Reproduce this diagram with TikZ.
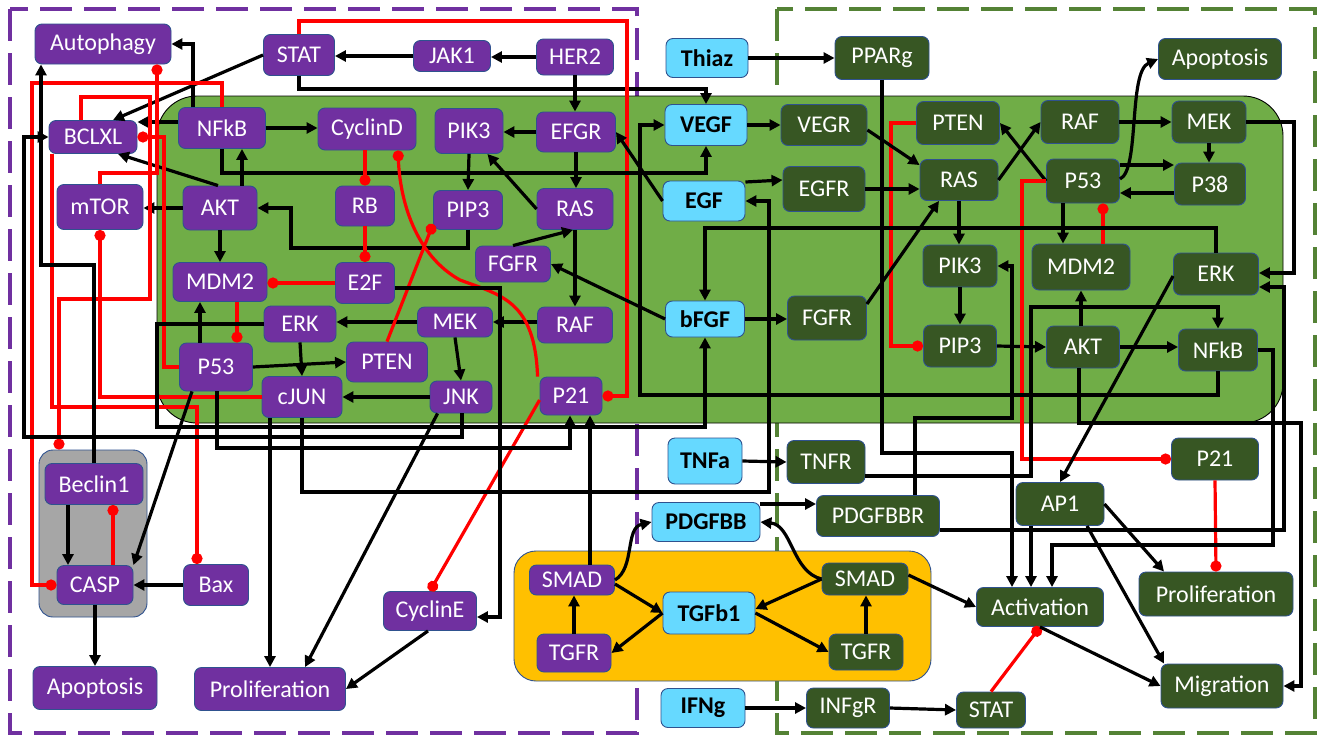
\documentclass[tikz,border=0pt]{standalone}
\usepackage{fontspec}
\setmainfont{Carlito}
\usetikzlibrary{arrows.meta,calc}
\definecolor{purp}{HTML}{7030A0}
\definecolor{darkg}{HTML}{375623}
\definecolor{cyanf}{HTML}{66D9FF}
\definecolor{edgeblue}{HTML}{2F528F}
\definecolor{regiong}{HTML}{70AD47}
\definecolor{orangef}{HTML}{FFC000}
\definecolor{grayf}{HTML}{A6A6A6}
\definecolor{dashg}{HTML}{548235}
\newcommand\mknode[7]{\node[#1,minimum width=#5pt,minimum height=#6pt] (#2) at (#3,#4) {#7};}
\begin{document}
\begin{tikzpicture}[x=1pt,y=-1pt,
  box/.style={rounded corners=7pt, draw=edgeblue, line width=0.9pt, inner sep=0pt,
              font=\fontsize{24}{27}\selectfont},
  pb/.style={box, fill=purp, text=white},
  gb/.style={box, fill=darkg, text=white},
  cb/.style={box, fill=cyanf, text=black, font=\fontsize{24}{27}\selectfont\bfseries},
  ar/.style={draw=black, line width=3.2pt, -{Triangle[length=11pt,width=11pt]}},
  inh/.style={draw=red, line width=3.2pt, -{Circle[length=11pt]}},
  region/.style={inner sep=0pt, line width=0.9pt}]
\useasboundingbox (0,0) rectangle (1319,737);
\fill[white] (0,0) rectangle (1319,737);

% compartments
\draw[purp, line width=4pt, dash pattern=on 32pt off 12pt] (10,9) rectangle (637,733);
\draw[dashg, line width=4pt, dash pattern=on 32pt off 12pt] (777,9) rectangle (1315,733);
\node[region, draw=black, fill=regiong, rounded corners=40pt, minimum width=1126pt, minimum height=327pt] (cell) at (720,259.5) {};
\node[region, draw=edgeblue, fill=grayf, rounded corners=14pt, minimum width=108pt, minimum height=167pt] (grayreg) at (93,533.5) {};
\node[region, draw=edgeblue, fill=orangef, rounded corners=22pt, minimum width=417pt, minimum height=130pt] (orangereg) at (722.5,616) {};

% left compartment
\mknode{pb}{autoP}{103}{44}{136}{40}{Autophagy}
\mknode{pb}{statP}{299}{55}{71}{41}{STAT}
\mknode{pb}{jak1}{452}{56}{77}{31}{JAK1}
\mknode{pb}{her2}{575}{57}{77}{36}{HER2}
\mknode{pb}{bclxl}{93}{137}{88}{33}{BCLXL}
\mknode{pb}{nfkbP}{222}{128}{87}{41}{NFkB}
\mknode{pb}{cycD}{367}{129}{98}{42}{CyclinD}
\mknode{pb}{pik3P}{469}{131}{68}{45}{PIK3}
\mknode{pb}{efgr}{576}{132}{79}{40}{EFGR}
\mknode{pb}{mtor}{100}{207}{86}{45}{mTOR}
\mknode{pb}{aktP}{220}{208}{74}{44}{AKT}
\mknode{pb}{rb}{365}{206}{59}{40}{RB}
\mknode{pb}{pip3P}{468}{210}{69}{39}{PIP3}
\mknode{pb}{rasP}{575}{209}{76}{41}{RAS}
\mknode{pb}{mdm2P}{220}{282}{94}{39}{MDM2}
\mknode{pb}{e2f}{365}{283}{59}{41}{E2F}
\mknode{pb}{fgfrP}{513}{264}{75}{36}{FGFR}
\mknode{pb}{erkP}{300}{324}{72}{36}{ERK}
\mknode{pb}{mekP}{455}{322}{75}{30}{MEK}
\mknode{pb}{rafP}{575}{325}{75}{36}{RAF}
\mknode{pb}{p53P}{216}{367}{73}{48}{P53}
\mknode{pb}{ptenP}{387}{362}{81}{40}{PTEN}
\mknode{pb}{cjun}{302}{397}{80}{41}{cJUN}
\mknode{pb}{jnk}{461}{397}{62}{32}{JNK}
\mknode{pb}{p21P}{571}{396}{62}{38}{P21}
\mknode{pb}{beclin}{94}{484}{98}{41}{Beclin1}
\mknode{pb}{casp}{95}{585}{76}{39}{CASP}
\mknode{pb}{bax}{216}{585}{65}{41}{Bax}
\mknode{pb}{apoP}{95}{688}{124}{43}{Apoptosis}
\mknode{pb}{prolP}{270}{689}{151}{43}{Proliferation}
\mknode{pb}{cycE}{430}{611}{93}{39}{CyclinE}
\mknode{pb}{smadP}{572}{580}{85}{30}{SMAD}
\mknode{pb}{tgfrP}{574}{653}{74}{38}{TGFR}

% ligands
\mknode{cb}{thiaz}{707}{58}{82}{39}{Thiaz}
\mknode{cb}{vegf}{706}{125}{82}{41}{VEGF}
\mknode{cb}{egf}{704}{201}{82}{40}{EGF}
\mknode{cb}{bfgf}{705}{319}{79}{36}{bFGF}
\mknode{cb}{tnfa}{705}{461}{74}{46}{TNFa}
\mknode{cb}{pdgfbb}{706}{522}{108}{39}{PDGFBB}
\mknode{cb}{tgfb1}{709}{613}{92}{42}{TGFb1}
\mknode{cb}{ifng}{703}{708}{84}{39}{IFNg}

% right compartment
\mknode{gb}{pparg}{882}{58}{94}{43}{PPARg}
\mknode{gb}{apoG}{1220}{59}{123}{41}{Apoptosis}
\mknode{gb}{vegr}{824}{125}{86}{41}{VEGR}
\mknode{gb}{ptenG}{958}{123}{83}{43}{PTEN}
\mknode{gb}{rafG}{1080}{122}{78}{43}{RAF}
\mknode{gb}{mekG}{1209}{122}{74}{42}{MEK}
\mknode{gb}{egfrG}{824}{189}{82}{45}{EGFR}
\mknode{gb}{rasG}{959}{180}{78}{41}{RAS}
\mknode{gb}{p53G}{1083}{181}{73}{44}{P53}
\mknode{gb}{p38}{1210}{184}{71}{42}{P38}
\mknode{gb}{pik3G}{960}{266}{74}{42}{PIK3}
\mknode{gb}{mdm2G}{1081}{267}{98}{46}{MDM2}
\mknode{gb}{erkG}{1216}{274}{85}{42}{ERK}
\mknode{gb}{fgfrG}{827}{318}{79}{44}{FGFR}
\mknode{gb}{pip3G}{960}{346}{73}{42}{PIP3}
\mknode{gb}{aktG}{1083}{347}{73}{42}{AKT}
\mknode{gb}{nfkbG}{1218}{350}{79}{42}{NFkB}
\mknode{gb}{tnfr}{826}{462}{78}{43}{TNFR}
\mknode{gb}{p21G}{1215}{459}{87}{42}{P21}
\mknode{gb}{ap1}{1060}{504}{88}{43}{AP1}
\mknode{gb}{pdgfbbr}{878}{516}{123}{41}{PDGFBBR}
\mknode{gb}{smadG}{865}{579}{86}{32}{SMAD}
\mknode{gb}{tgfrG}{866}{652}{74}{36}{TGFR}
\mknode{gb}{activ}{1040}{607}{127}{39}{Activation}
\mknode{gb}{prolG}{1216}{594}{154}{44}{Proliferation}
\mknode{gb}{migr}{1222}{686}{122}{44}{Migration}
\mknode{gb}{infgr}{848}{708}{83}{40}{INFgR}
\mknode{gb}{statG}{991}{710}{69}{36}{STAT}

% ---- left compartment links
\draw[ar] (jak1.west) -- (statP.east |- jak1.west);
\draw[ar] (her2.west) -- (jak1.east |- her2.west);
\draw[ar] (her2.south) -- (her2.south |- efgr.north);
\draw[ar] (statP.west) -- ([xshift=20pt]bclxl.north);
\draw[ar] (statP.south) |- (vegf.north |- 0,89) -- (vegf.north);
\draw[inh] (statP.north) |- (627,21) |- (p21P.east);
\draw[ar] (193,0 |- nfkbP.north) |- (autoP.east);
\draw[ar] (nfkbP.west |- 0,122) -- (bclxl.east |- 0,122);
\draw[ar] (nfkbP.east) -- (cycD.west |- nfkbP.east);
\draw[ar] (nfkbP.south) |- (vegf.south |- 0,173) -- (vegf.south);
\draw[ar] (242,0 |- aktP.north) -- (242,0 |- nfkbP.south);
\draw[ar] (218,0 |- aktP.north) -- ([xshift=25pt]bclxl.south);
\draw[ar] (aktP.west) -- (mtor.east |- aktP.west);
\draw[ar] (aktP.south) -- (mdm2P.north);
\draw[ar] (pip3P.south) |- (291,248) |- (aktP.east);
\draw[ar] (pik3P.south) -- (pip3P.north);
\draw[ar] (efgr.west) -- (pik3P.east |- efgr.west);
\draw[ar] (efgr.south) -- (efgr.south |- rasP.north);
\draw[ar] (rasP.west) -- ([xshift=-16pt]pik3P.south east);
\draw[ar] (fgfrP.north) -- ([xshift=-2pt]rasP.south);
\draw[ar] (rasP.south) -- (rafP.north);
\draw[ar] (rafP.west |- mekP.east) -- (mekP.east);
\draw[ar] (mekP.west) -- (erkP.east |- mekP.west);
\draw[ar] (mekP.south) -- (jnk.north);
\draw[ar] (jnk.west) -- (cjun.east |- jnk.west);
\draw[ar] (erkP.south) -- (cjun.north);
\draw[ar] (200,0 |- p53P.north) -- (200,0 |- mdm2P.south);
\draw[inh] (237,0 |- mdm2P.south) -- (237,0 |- p53P.north);
\draw[inh] (e2f.west) -- (mdm2P.east |- e2f.west);
\draw[inh] (rb.north |- cycD.south) -- (rb.north);
\draw[inh] (rb.south) -- (e2f.north);
\draw[inh] ([xshift=-2pt]p21P.north west) .. controls (535,300) and (500,295) .. (460,280)
           .. controls (415,255) and (400,200) .. ([xshift=31pt]cycD.south);
\draw[ar] (p53P.east) -- (ptenP.west);
\draw[inh] (ptenP.north) -- ([yshift=-14pt]pip3P.west);
\draw[inh] ([yshift=-4pt]p21P.west) -- (cycE.north);
\draw[ar] ([yshift=-5pt]e2f.east) -| (500,617) -- ([yshift=-6pt]cycE.east);
\draw[inh] (cjun.west) -| (mtor.south);
\draw[inh] (nfkbP.north) |- (32,83) |- (casp.west);
\draw[inh] (81,0 |- bclxl.north) |- (150,97) |- (59,299) -- (59,0 |- grayreg.north);
\draw[inh] (mtor.north) |- (157,173) -- (157,0 |- autoP.south);
\draw[inh] (p53P.west) -| (164,137) -- (bclxl.east);
\draw[inh] (52,0 |- bclxl.south) |- (197,407) -- (197,0 |- bax.north);
\draw[ar] (beclin.north) |- (41,265) -- (41,0 |- autoP.south);
\draw[ar] (462,0 |- jnk.south) |- (24,437) |- (bclxl.west);
\draw[ar] (erkP.west) -| (157,427) -| (bfgf.south);
\draw[ar] (217,0 |- p53P.south) |- (570,448) -- (570,0 |- p21P.south);
\draw[ar] (590,0 |- smadP.north) -- (590,0 |- p21P.south);
\draw[ar] (cjun.south) |- (769,492) |- (egf.east);
\draw[ar] (270,0 |- cjun.south) -- (270,0 |- prolP.north);
\draw[ar] ([xshift=8pt]jnk.south west) -- ([xshift=35pt]prolP.north);
\draw[ar] ([xshift=-2pt]cycE.south) -- (prolP.east);
\draw[ar] ([xshift=-24pt]p53P.south) -- (casp.north east);
\draw[ar] (68,0 |- beclin.south) -- (68,0 |- casp.north);
\draw[inh] (113,0 |- casp.north) -- (113,0 |- beclin.south);
\draw[ar] (bax.west) -- (casp.east);
\draw[ar] (casp.south) -- (apoP.north);

% ---- TGF-beta module and ligands
\draw[ar] (tgfrP.north) -- (tgfrP.north |- smadP.south);
\draw[ar] (smadP.east) .. controls (635,568) and (625,528) .. (pdgfbb.west);
\draw[ar] ([yshift=-4pt]smadP.east) -- (tgfb1.west);
\draw[ar] (tgfb1.west) -- (tgfrP.east);
\draw[ar] (smadG.west) -- ([yshift=4pt]tgfb1.east);
\draw[ar] (tgfb1.east) -- (tgfrG.west);
\draw[ar] (smadG.west) .. controls (792,572) and (792,525) .. (pdgfbb.east);
\draw[ar] (tgfrG.north) -- (tgfrG.north |- smadG.south);
\draw[ar] ([yshift=4pt]smadG.east) -- (activ.west);
\draw[ar] (pdgfbb.east |- 0,504) -- (pdgfbbr.west |- 0,504);
\draw[ar] (tnfa.east) -- (tnfr.west);
\draw[ar] (ifng.east) -- (infgr.west);
\draw[ar] (infgr.east) -- (statG.west);
\draw[ar] (thiaz.east) -- (pparg.west);

% ---- right compartment links
\draw[inh] (statG.north) -- (activ.south);
\draw[ar] (activ.south) -- (migr.west);
\draw[ar] (1031,0 |- ap1.south) -- (1031,0 |- activ.north);
\draw[ar] (ap1.east) -- ([xshift=-52pt]prolG.north);
\draw[ar] ([xshift=27pt]ap1.south) -- ([xshift=-58pt]migr.north);
\draw[inh] (p21G.south) -- (prolG.north);
\draw[ar] (pparg.south) |- (1012,453) -- (1012,0 |- activ.north);
\draw[ar] (nfkbG.east) -| (1273,545) -| (1052,0 |- activ.north);
\draw[ar] (1079,0 |- aktG.south) |- (1301,423) |- (migr.east);
\draw[ar] (pdgfbbr.east |- 0,530) -| (1284,287) -- (erkG.east |- 0,287);
\draw[ar] (mekG.east) -| (1294,273) -- (erkG.east |- 0,273);
\draw[ar] (mekG.south) -- (mekG.south |- p38.north);
\draw[ar] (p53G.east |- 0,165) -- (p38.west |- 0,165);
\draw[ar] (p38.west |- 0,193) -- (p53G.east |- 0,193);
\draw[ar] ([yshift=2pt]p53G.east) .. controls (1140,170) and (1128,72) .. (apoG.west);
\draw[ar] (p53G.west) -- (ptenG.east);
\draw[ar] (rasG.east) -- (rafG.west);
\draw[ar] (rafG.east) -- (mekG.west);
\draw[ar] (1063,0 |- p53G.south) -- (1063,0 |- mdm2G.north);
\draw[inh] (1103,0 |- mdm2G.north) -- (1103,0 |- p53G.south);
\draw[ar] (1081,0 |- aktG.north) -- (1081,0 |- mdm2G.south);
\draw[ar] (aktG.east) -- (nfkbG.west |- aktG.east);
\draw[ar] (pip3G.east) -- (aktG.west);
\draw[ar] (pik3G.south) -- (pip3G.north);
\draw[ar] (rasG.south) -- (rasG.south |- pik3G.north);
\draw[inh] (ptenG.west) -| (891,346) -- (pip3G.west);
\draw[inh] (p53G.west) -| (1022,459) -- (p21G.west);
\draw[ar] ([yshift=-2pt]erkG.west) -- (ap1.north);
\draw[ar] (vegf.east) -- (vegr.west);
\draw[ar] ([yshift=-5pt]vegr.east) -- ([yshift=-6pt]rasG.north west);
\draw[ar] ([yshift=19pt]egf.east) -- ([yshift=9pt]egfrG.west);
\draw[ar] (egfrG.east) -- (rasG.west |- egfrG.east);
\draw[ar] (egf.west) -- (efgr.east);
\draw[ar] (bfgf.west) -- (fgfrP.east);
\draw[ar] (bfgf.east) -- (fgfrG.west |- bfgf.east);
\draw[ar] ([yshift=14pt]fgfrG.east) -- ([xshift=-20pt]rasG.south);
\draw[ar] (erkG.north) |- (bfgf.north |- 0,228) -- (bfgf.north);
\draw[ar] (915,0 |- pdgfbbr.north) |- (1012,418) |- (pik3G.east);
\draw[ar] ([yshift=-14pt]tnfr.east) -| (1031,307) -| (nfkbG.north);
\draw[ar] (nfkbG.south) |- (640,395) |- (vegf.west);
\end{tikzpicture}
\end{document}
